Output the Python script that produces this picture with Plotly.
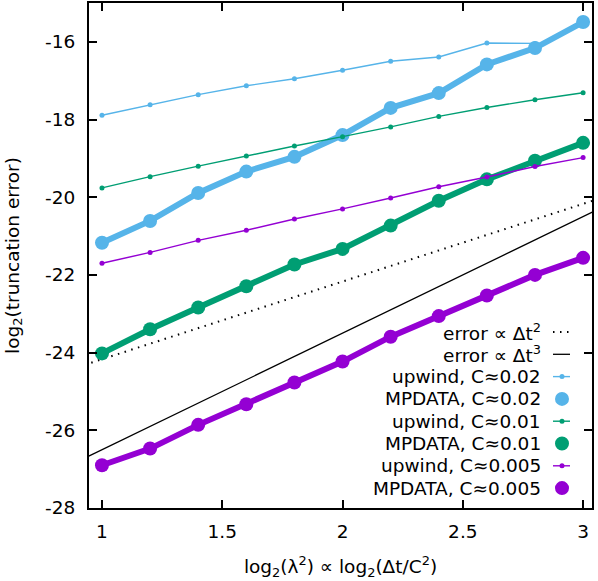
import plotly.graph_objects as go

# log2(lambda^2) sample points
x_vals = [1.0, 1.2, 1.4, 1.6, 1.8, 2.0, 2.2, 2.4, 2.6, 2.8, 3.0]

# log2(truncation error)
upwind_002 = [-17.89, -17.62, -17.36, -17.13, -16.95, -16.73, -16.50, -16.39, -16.03, -16.04]
mpdata_002 = [-21.17, -20.61, -19.89, -19.34, -18.96, -18.40, -17.70, -17.32, -16.58, -16.16, -15.49]
upwind_001 = [-19.76, -19.47, -19.20, -18.94, -18.68, -18.44, -18.19, -17.92, -17.69, -17.49, -17.31]
mpdata_001 = [-24.02, -23.40, -22.84, -22.29, -21.73, -21.33, -20.73, -20.09, -19.54, -19.06, -18.60]
upwind_0005 = [-21.70, -21.42, -21.11, -20.85, -20.56, -20.30, -20.02, -19.73, -19.48, -19.21, -18.98]
mpdata_0005 = [-26.90, -26.47, -25.86, -25.33, -24.77, -24.23, -23.59, -23.06, -22.53, -22.00, -21.56]

# reference slopes (end points only)
ref_x = [0.9, 3.1]
ref_dt2 = [-24.37, -19.97]
ref_dt3 = [-26.80, -20.20]

x_ticks = [1, 1.5, 2, 2.5, 3]
y_ticks = [-28, -26, -24, -22, -20, -18, -16]

PURPLE = '#9400D3'
GREEN = '#009E73'
BLUE = '#56B4E9'
FONT = 'DejaVu Sans'
FS = 18.5

# name, x, y, color, kind
series = [
    ('upwind, C≈0.02', x_vals[:len(upwind_002)], upwind_002, BLUE, 'thin'),
    ('MPDATA, C≈0.02', x_vals, mpdata_002, BLUE, 'thick'),
    ('upwind, C≈0.01', x_vals, upwind_001, GREEN, 'thin'),
    ('MPDATA, C≈0.01', x_vals, mpdata_001, GREEN, 'thick'),
    ('upwind, C≈0.005', x_vals, upwind_0005, PURPLE, 'thin'),
    ('MPDATA, C≈0.005', x_vals, mpdata_0005, PURPLE, 'thick'),
]

fig = go.Figure()

fig.add_trace(go.Scatter(x=ref_x, y=ref_dt2, mode='lines',
                         line=dict(color='black', width=2, dash='1.5px,5.5px'),
                         showlegend=False))
fig.add_trace(go.Scatter(x=ref_x, y=ref_dt3, mode='lines',
                         line=dict(color='black', width=1.3),
                         showlegend=False))

for name, xs, ys, color, kind in series:
    if kind == 'thin':
        line = dict(color=color, width=1.4)
        marker = dict(color=color, size=5)
    else:
        line = dict(color=color, width=6)
        marker = dict(color=color, size=14)
    fig.add_trace(go.Scatter(x=xs, y=ys, mode='lines+markers', name=name,
                             line=line, marker=marker, showlegend=False))

# hand-made legend: text right-aligned, sample on the right (gnuplot style)
L, R, T, B = 89, 6, 3, 73
W, H = 598, 581
pw, ph = W - L - R, H - T - B


def px(xp):
    return (xp - L) / pw


def py(yp):
    return (T + ph - yp) / ph


legend_rows = [('error ∝ Δt<sup>2</sup>', 'black', 'dot'),
               ('error ∝ Δt<sup>3</sup>', 'black', 'solid')]
legend_rows += [(s[0], s[3], s[4]) for s in series]

text_right = 543
samp_l, samp_r, samp_c = 553, 570, 562
row0, dy = 332, 22.3
shapes = []
annotations = []
for i, (label, color, kind) in enumerate(legend_rows):
    yc = row0 + i * dy
    annotations.append(dict(x=px(text_right), y=py(yc), xref='paper', yref='paper',
                            text=label, showarrow=False, xanchor='right', yanchor='middle',
                            font=dict(family=FONT, size=FS, color='black')))
    if kind in ('dot', 'solid', 'thin'):
        if kind == 'dot':
            ln = dict(color='black', width=2, dash='1.5px,5.5px')
        elif kind == 'solid':
            ln = dict(color='black', width=1.3)
        else:
            ln = dict(color=color, width=1.4)
        shapes.append(dict(type='line', xref='paper', yref='paper',
                           x0=px(samp_l), x1=px(samp_r), y0=py(yc), y1=py(yc), line=ln))
    if kind in ('thin', 'thick'):
        r = 2.5 if kind == 'thin' else 7
        shapes.append(dict(type='circle', xref='paper', yref='paper',
                           xsizemode='pixel', ysizemode='pixel',
                           xanchor=px(samp_c), yanchor=py(yc),
                           x0=-r, x1=r, y0=-r, y1=r,
                           fillcolor=color, line=dict(width=0)))

axis_common = dict(showgrid=False, zeroline=False, showline=True, linecolor='black',
                   linewidth=2, mirror='ticks', ticks='inside', ticklen=8,
                   tickwidth=2, tickcolor='black',
                   tickfont=dict(family=FONT, size=FS, color='black'))

fig.update_layout(
    width=W, height=H,
    margin=dict(l=L, r=R, t=T, b=B),
    paper_bgcolor='white', plot_bgcolor='white',
    font=dict(family=FONT, size=FS, color='black'),
    xaxis=dict(range=[0.946, 3.037], tickvals=x_ticks, ticktext=[str(v) for v in x_ticks],
               ticklabelstandoff=6,
               title=dict(text='log<sub>2</sub>(λ<sup>2</sup>) ∝ log<sub>2</sub>(Δt/C<sup>2</sup>)',
                          font=dict(family=FONT, size=FS), standoff=19),
               automargin=False, **axis_common),
    yaxis=dict(range=[-28, -15], tickvals=y_ticks, ticktext=[str(v) for v in y_ticks],
               ticklabelstandoff=8,
               title=dict(text='log<sub>2</sub>(truncation error)',
                          font=dict(family=FONT, size=FS), standoff=21),
               automargin=False, **axis_common),
    shapes=shapes,
    annotations=annotations,
    showlegend=False,
)

fig.write_html('out.html', config={'displayModeBar': False},
               post_script="document.body.style.margin='0';")
